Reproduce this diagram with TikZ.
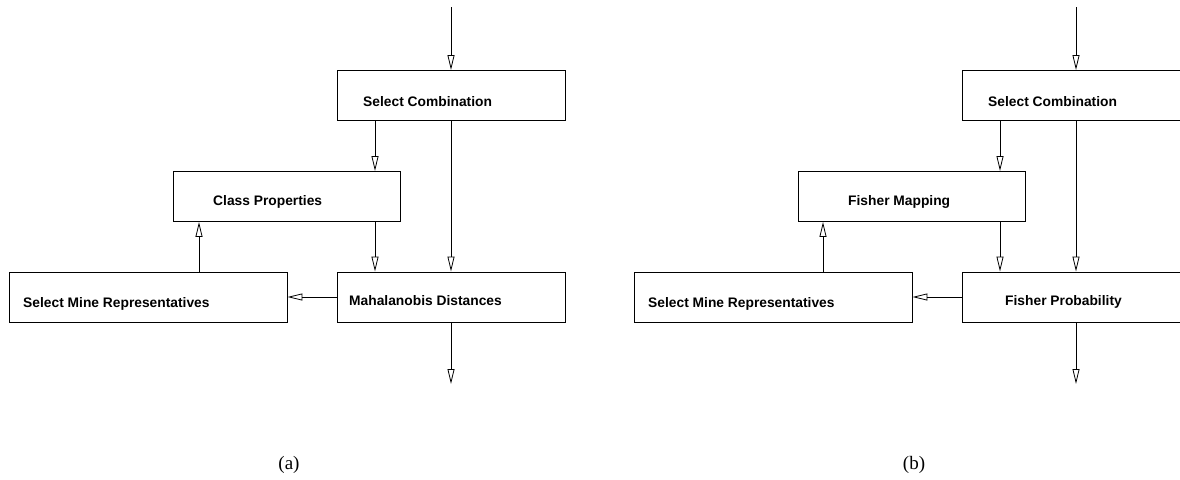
\documentclass[tikz,border=0pt]{standalone}
\usepackage{fontspec}
\setmainfont{Liberation Serif}
\newfontfamily\boxfont{Liberation Sans}
\usetikzlibrary{arrows.meta}
\tikzset{
  blockbox/.style={
    draw,
    line width=0.9pt,
    minimum height=50pt,
    inner sep=0pt
  },
  boxtext/.style={anchor=base west,inner sep=0pt,font=\boxfont\bfseries\fontsize{13.8}{16}\selectfont},
  flow/.style={-{Triangle[open,length=15pt,width=7pt]},line width=0.8pt},
  capt/.style={font=\fontsize{19}{22}\selectfont}
}

\begin{document}
\begin{tikzpicture}[x=1pt,y=-1pt]
  \clip (0,0) rectangle (1180,479);

  % (a)
  \node[blockbox,minimum width=228pt] (sca) at (451,95.5) {};
  \node[blockbox,minimum width=227pt] (cpa) at (286.5,196.5) {};
  \node[blockbox,minimum width=278pt] (smra) at (148,297) {};
  \node[blockbox,minimum width=228pt] (mda) at (451,297) {};

  \node[boxtext] (scat) at (363,106) {Select Combination};
  \node[boxtext] (cpat) at (213,205) {Class Properties};
  \node[boxtext] (smrat) at (23,307) {Select Mine Representatives};
  \node[boxtext] (mdat) at (349,305) {Mahalanobis Distances};

  \coordinate (ina) at (451,7);
  \coordinate (outa) at (451,384);
  \draw[flow] (ina) -- (sca.north);
  \draw[flow] (sca.south -| 375,0) -- (cpa.north -| 375,0);
  \draw[flow] (sca.south) -- (mda.north);
  \draw[flow] (cpa.south -| 375,0) -- (mda.north -| 375,0);
  \draw[flow] (smra.north -| 199,0) -- (cpa.south -| 199,0);
  \draw[flow] (mda.west) -- (smra.east);
  \draw[flow] (mda.south) -- (outa);

  \node[capt] (capa) at (289,465) {(a)};

  % (b)
  \node[blockbox,minimum width=228pt] (scb) at (1076,95.5) {};
  \node[blockbox,minimum width=227pt] (fmb) at (911.5,196.5) {};
  \node[blockbox,minimum width=278pt] (smrb) at (773,297) {};
  \node[blockbox,minimum width=228pt] (fpb) at (1076,297) {};

  \node[boxtext] (scbt) at (988,106) {Select Combination};
  \node[boxtext] (fmbt) at (848,205) {Fisher Mapping};
  \node[boxtext] (smrbt) at (648,307) {Select Mine Representatives};
  \node[boxtext] (fpbt) at (1005,305) {Fisher Probability};

  \coordinate (inb) at (1076,7);
  \coordinate (outb) at (1076,384);
  \draw[flow] (inb) -- (scb.north);
  \draw[flow] (scb.south -| 1000,0) -- (fmb.north -| 1000,0);
  \draw[flow] (scb.south) -- (fpb.north);
  \draw[flow] (fmb.south -| 1000,0) -- (fpb.north -| 1000,0);
  \draw[flow] (smrb.north -| 823,0) -- (fmb.south -| 823,0);
  \draw[flow] (fpb.west) -- (smrb.east);
  \draw[flow] (fpb.south) -- (outb);

  \node[capt] (capb) at (914,465) {(b)};
\end{tikzpicture}
\end{document}
